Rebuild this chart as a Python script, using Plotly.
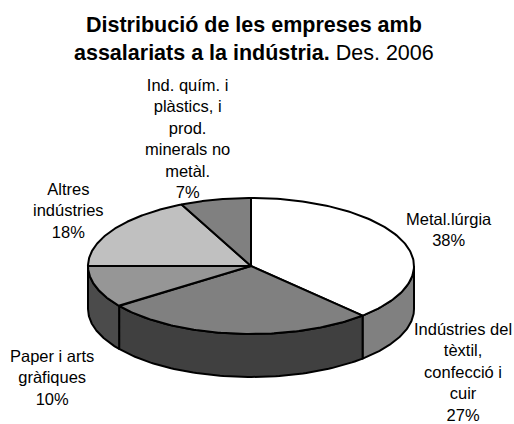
import numpy as np
import plotly.graph_objects as go

# ---- data ----
categories = ["Metal.lúrgia",
              "Indústries del<br>tèxtil,<br>confecció i<br>cuir",
              "Paper i arts<br>gràfiques",
              "Altres<br>indústries",
              "Ind. quím. i<br>plàstics, i<br>prod.<br>minerals no<br>metàl."]
values = [38, 27, 10, 18, 7]
title_lines = ["<b>Distribució de les empreses amb</b>",
               "<b>assalariats a la indústria.</b> Des. 2006"]

# ---- styles / layout ----
top_colors = ["#FFFFFF", "#808080", "#969696", "#C0C0C0", "#808080"]
side_colors = ["#808080", "#404040", "#4B4B4B", "#606060", "#404040"]
label_pos = [(449, 229), (463, 372), (52, 377), (68, 210), (187, 138)]
title_y = [25, 53]
CX, CY, RX, RY, DEPTH = 251, 266, 163, 68, 43
FONT = "Arial, Liberation Sans, sans-serif"

def pt(theta_deg, dy=0.0):
    t = np.radians(theta_deg)
    return CX + RX * np.sin(t), CY - RY * np.cos(t) + dy

fig = go.Figure()

total = float(sum(values))
bounds = []
acc = 0.0
for v in values:
    a1 = acc / total * 360.0
    acc += v
    a2 = acc / total * 360.0
    bounds.append((a1, a2))

# side walls (front half: 90..270 deg)
for (a1, a2), col in zip(bounds, side_colors):
    lo, hi = max(a1, 90.0), min(a2, 270.0)
    if hi <= lo:
        continue
    th = np.linspace(lo, hi, 80)
    xt, yt = pt(th)
    xb, yb = pt(th[::-1], DEPTH)
    xs = np.concatenate([xt, xb, xt[:1]])
    ys = np.concatenate([yt, yb, yt[:1]])
    fig.add_trace(go.Scatter(x=xs, y=ys, mode="lines", fill="toself",
                             fillcolor=col, line=dict(color="black", width=2),
                             hoverinfo="skip", showlegend=False))

# top faces
for (a1, a2), col in zip(bounds, top_colors):
    th = np.linspace(a1, a2, 120)
    xa, ya = pt(th)
    xs = np.concatenate([[CX], xa, [CX]])
    ys = np.concatenate([[CY], ya, [CY]])
    fig.add_trace(go.Scatter(x=xs, y=ys, mode="lines", fill="toself",
                             fillcolor=col, line=dict(color="black", width=2),
                             hoverinfo="skip", showlegend=False))

# labels
for cat, v, (lx, ly) in zip(categories, values, label_pos):
    pct = round(v / total * 100)
    fig.add_annotation(x=lx, y=ly, xref="x", yref="y",
                       text=f"{cat}<br>{pct}%", showarrow=False,
                       xanchor="center", yanchor="middle", align="center",
                       font=dict(family=FONT, size=16.5, color="black"))

# title
for line, ty in zip(title_lines, title_y):
    fig.add_annotation(x=254, y=ty, xref="x", yref="y", xanchor="center",
                       yanchor="middle", text=line, showarrow=False,
                       font=dict(family=FONT, size=21.5, color="black"))

fig.update_layout(width=514, height=424, margin=dict(l=0, r=0, t=0, b=0),
                  paper_bgcolor="white", plot_bgcolor="white",
                  xaxis=dict(range=[0, 514], visible=False, fixedrange=True),
                  yaxis=dict(range=[424, 0], visible=False, fixedrange=True),
                  showlegend=False)

fig.write_html("out.html", config={"displayModeBar": False},
               post_script="document.body.style.margin='0';")
